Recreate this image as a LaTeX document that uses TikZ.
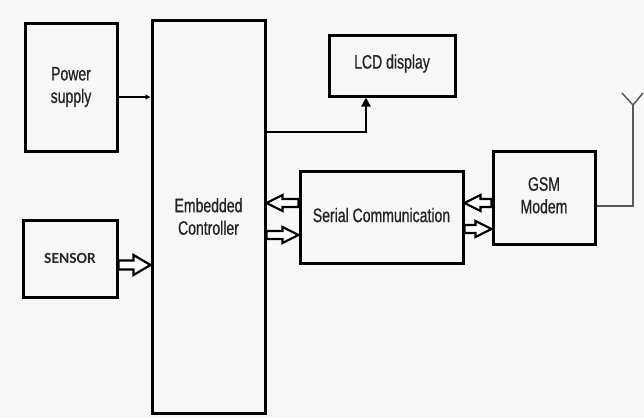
\documentclass[tikz,border=0pt]{standalone}
\usepackage{fontspec}
\setmainfont{Liberation Sans}
\newfontfamily\narrowf[FakeStretch=0.72,FakeBold=0.6]{Liberation Sans}
\newfontfamily\carlito{Carlito}
\usetikzlibrary{calc,arrows.meta}
\definecolor{bgc}{RGB}{247,247,247}
\definecolor{txt}{RGB}{35,35,35}
\tikzset{
  box/.style={draw=black, line width=3pt, fill=bgc, inner sep=0pt,
    font=\narrowf\fontsize{19.5}{22.5}\selectfont, text=txt, align=center},
  harrow/.style={draw=black, line width=2.2pt, fill=white, line join=miter,
    to path={let \p1=(\tikztostart), \p2=(\tikztotarget), \n1={(\x2>\x1)*2-1} in
      (\x1,\y1+4pt) -- (\x2-\n1*16pt,\y1+4pt) -- (\x2-\n1*16pt,\y1+8pt) -- (\x2,\y1)
      -- (\x2-\n1*16pt,\y1-8pt) -- (\x2-\n1*16pt,\y1-4pt) -- (\x1,\y1-4pt) -- cycle}},
  bigharrow/.style={harrow,
    to path={let \p1=(\tikztostart), \p2=(\tikztotarget), \n1={(\x2>\x1)*2-1} in
      (\x1,\y1+4.5pt) -- (\x2-\n1*17pt,\y1+4.5pt) -- (\x2-\n1*17pt,\y1+10pt) -- (\x2,\y1)
      -- (\x2-\n1*17pt,\y1-10pt) -- (\x2-\n1*17pt,\y1-4.5pt) -- (\x1,\y1-4.5pt) -- cycle}},
  wire/.style={draw=black, line width=2.5pt},
  antline/.style={draw=black!65, line width=1.5pt}
}
\begin{document}
\begin{tikzpicture}[x=1pt,y=-1pt]
\fill[bgc] (0,0) rectangle (644,418);
\useasboundingbox (0,0) rectangle (644,418);

\node[box, minimum width=113, minimum height=393] (ctrl) at (208.5,216.5) {Embedded\\Controller};
\node[box, minimum width=92, minimum height=128] (ps) at (71,87) {Power\\supply};
\node[box, minimum width=94, minimum height=77, font=\carlito\bfseries\fontsize{15.5}{18}\selectfont, text=black!85] (sen) at (70,258.5) {SENSOR};
\node[box, minimum width=126, minimum height=61] (lcd) at (392,65.5) {\raisebox{8pt}{LCD display}};
\node[box, minimum width=163, minimum height=92] (ser) at (381.5,217) {\raisebox{4pt}{Serial Communication}};
\node[box, minimum width=102, minimum height=93] (gsm) at (544,197.5) {\raisebox{4pt}{\begin{tabular}{@{}c@{}}GSM\\Modem\end{tabular}}};

\coordinate (y97) at (0,97);
\coordinate (y265) at (0,265);
\coordinate (y132) at (0,132);
\coordinate (x366) at (366,0);
\coordinate (y203) at (0,203);
\coordinate (y235) at (0,235);
\coordinate (y229) at (0,229);
\coordinate (y206) at (0,206);
\coordinate (ant) at (633,105);
\coordinate (antL) at (622,93);
\coordinate (antR) at (643,93);

% power
\draw[line width=2pt, -{Latex[length=5pt,width=6pt]}] (ps.east |- y97) -- (ctrl.west |- y97);
% sensor
\path[bigharrow] (sen.east |- y265) to (ctrl.west |- y265);
% LCD
\draw[wire, -{Triangle[length=9pt,width=9pt]}] (ctrl.east |- y132) -| (lcd.south -| x366);
% serial <-> controller
\path[harrow] (ser.west |- y203) to (ctrl.east |- y203);
\path[harrow] (ctrl.east |- y235) to (ser.west |- y235);
% gsm <-> serial
\path[harrow] (gsm.west |- y203) to (ser.east |- y203);
\path[harrow] (ser.east |- y229) to (gsm.west |- y229);
% antenna
\draw[antline] (gsm.east |- y206) -| (ant);
\draw[antline] (antL) -- (ant) -- (antR);
\end{tikzpicture}
\end{document}
